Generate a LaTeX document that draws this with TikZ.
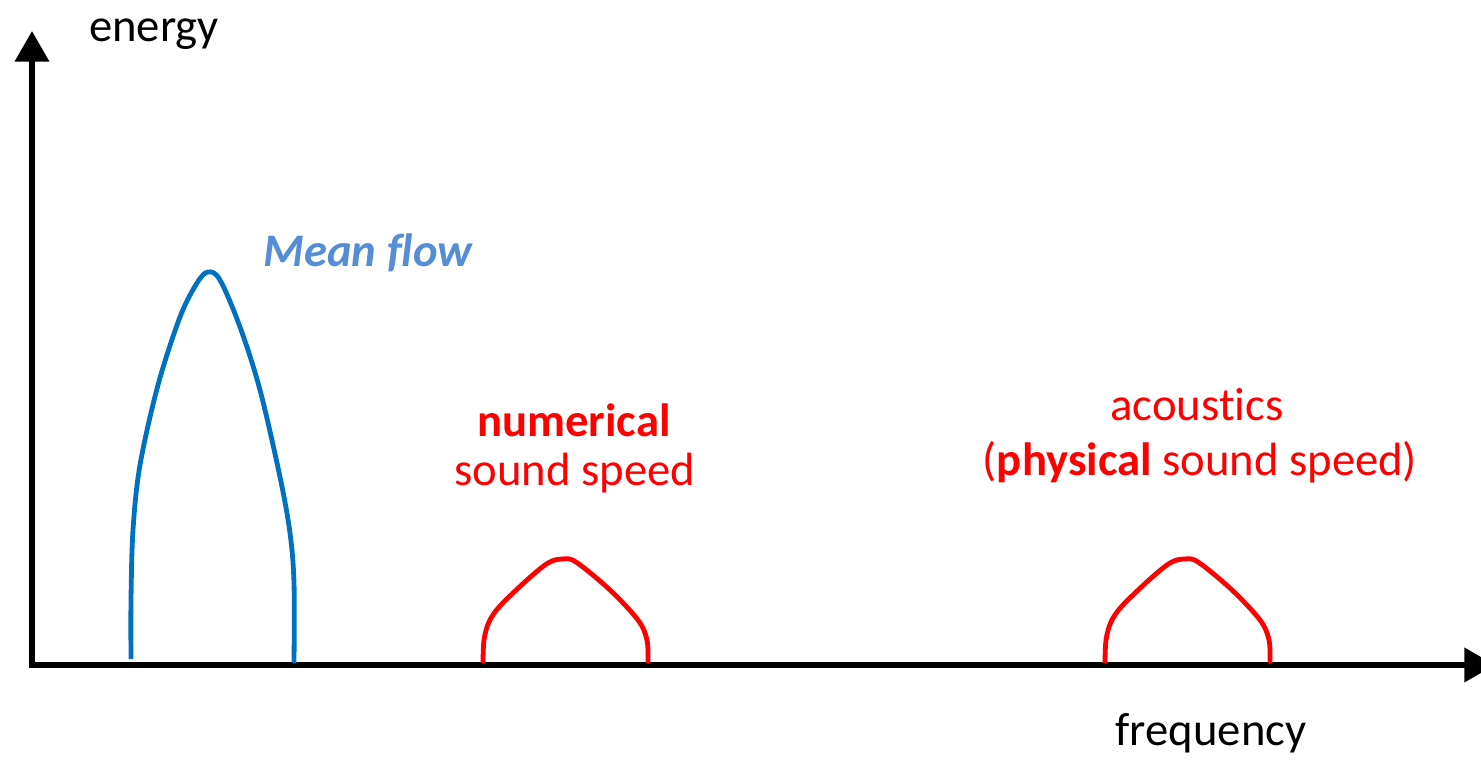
\documentclass[tikz,border=0pt]{standalone}
\usepackage{fontspec}
\setmainfont{Carlito}[Ligatures=NoCommon]
\usetikzlibrary{arrows.meta}
\definecolor{meanblue}{HTML}{558ED5}
\definecolor{curveblue}{HTML}{0070C0}
\definecolor{pured}{HTML}{FF0000}
\tikzset{
  axis/.style={line width=4.5pt,-{Triangle[length=23pt,width=25pt]}},
  peak/.style={line width=3.6pt,line cap=butt},
  lbl/.style={font=\fontsize{35}{42}\selectfont,inner sep=0pt,anchor=base},
}
\begin{document}
\begin{tikzpicture}[x=0.75pt,y=-0.75pt]
\useasboundingbox (0,0) rectangle (1481,762);
\coordinate (origin) at (32,665);
\coordinate (ytip) at (32,31);
\coordinate (xtip) at (1495,665);
\draw[axis] (32,668) -- (ytip);
\draw[axis] (29,665) -- (xtip);
% blue mean flow curve
\draw[peak,curveblue] plot[smooth,tension=0.55] coordinates {
 (131,659) (131,600) (133,530) (140,465) (158,385) (180,317) (197,283) (208,272)
 (220,280) (240,327) (260,390) (280,477) (290,533) (294,583) (294,663)};
% red numerical curve
\draw[peak,pured] plot[smooth,tension=0.55] coordinates {
 (483,663) (484,640) (489,622) (500,606) (527,580) (548,563) (562,559) (576,562) (610,590)
 (638,620) (647,640) (648,663)};
% red acoustic curve
\draw[peak,pured,xshift=622*0.75pt] plot[smooth,tension=0.55] coordinates {
 (483,663) (484,640) (489,622) (500,606) (527,580) (548,563) (562,559) (576,562) (610,590)
 (638,620) (647,640) (648,663)};
\node[lbl] (energy) at (154,42) {energy};
\node[lbl] (freq) at (1211,745) {frequency};
\node[lbl,text=meanblue,font=\fontsize{35}{42}\selectfont\bfseries\itshape] (mean) at (368,267) {Mean flow};
\node[lbl,text=pured] (num) at (574,437) {\bfseries numerical};
\node[lbl,text=pured] (ss) at (575,486) {sound speed};
\node[lbl,text=pured] (ac) at (1197,421) {acoustics};
\node[lbl,text=pured] (phys) at (1200,476) {(\textbf{physical} sound speed)};
\end{tikzpicture}
\end{document}
